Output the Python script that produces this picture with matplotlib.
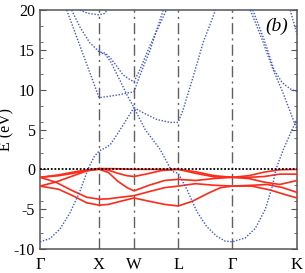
import matplotlib
matplotlib.use('Agg')
import matplotlib.pyplot as plt
from matplotlib.ticker import MultipleLocator

plt.rcParams['font.family'] = ['Liberation Serif', 'DejaVu Serif']

# high-symmetry points (k path position)
kpts = [0.0, 0.95, 1.51, 2.22, 3.09, 4.13]
klabels = ['Γ', 'X', 'W', 'L', 'Γ', 'K']

# ---- blue (s-p) bands ----
b1_k = [0.0, 0.16, 0.32, 0.48, 0.64, 0.77, 0.87, 0.95, 1.05, 1.13, 1.29, 1.51,
        1.69, 1.93, 2.12, 2.22, 2.36, 2.52, 2.68, 2.84, 2.97, 3.09,
        3.30, 3.46, 3.62, 3.73, 3.79, 3.91, 4.05, 4.13]
b1_e = [-9.1, -8.7, -7.5, -5.5, -2.8, 0.0, 1.6, 2.3, 2.7, 3.1, 5.0, 7.75,
        5.0, 2.5, -0.25, -0.5, -2.5, -5.3, -7.2, -8.4, -9.0, -9.1,
        -8.6, -7.4, -5.0, -2.2, 0.0, 2.5, 5.0, 6.3]

b2_k = [0.43, 0.56, 0.69, 0.82, 0.95, 1.13, 1.29, 1.51, 1.61, 1.77, 1.98]
b2_e = [20.0, 17.25, 14.5, 11.75, 9.0, 9.2, 9.4, 9.75, 11.9, 15.0, 20.0]

b3_k = [0.51, 0.64, 0.80, 0.92, 0.95, 1.05, 1.13, 1.24, 1.33, 1.45, 1.51,
        1.61, 1.77, 2.03]
b3_e = [20.0, 17.9, 15.9, 15.0, 14.75, 14.6, 14.0, 12.9, 11.9, 11.25, 11.0,
        12.6, 15.6, 20.0]

b4_k = [0.95, 1.05, 1.13, 1.29, 1.40, 1.51, 1.66, 1.88, 2.09, 2.22,
        2.30, 2.46, 2.62, 2.82]
b4_e = [14.75, 14.4, 13.6, 11.1, 9.3, 7.75, 7.1, 6.25, 5.9, 5.9,
        7.5, 11.6, 15.9, 20.0]

b5_k = [0.64, 0.77, 0.95, 1.05, 1.07]
b5_e = [20.0, 19.6, 19.4, 19.6, 20.0]

b6_k = [3.38, 3.57, 3.73, 3.91, 4.05, 4.13]
b6_e = [20.0, 16.3, 12.8, 9.5, 6.6, 5.0]

b7_k = [3.42, 3.60, 3.76, 3.89, 4.02, 4.13]
b7_e = [20.0, 16.3, 12.5, 10.9, 10.1, 9.75]

b8_k = [4.02, 4.13]
b8_e = [20.0, 16.9]

# ---- red (d) bands ----
r1_k = [0.0, 0.3, 0.6, 0.8, 0.95, 1.2, 1.51, 1.9, 2.22, 2.5, 2.8, 3.09,
        3.35, 3.6, 3.85, 4.13]
r1_e = [-1.0, -0.7, -0.25, -0.02, 0.1, 0.08, 0.0, 0.0, 0.0, -0.3, -0.8, -1.0,
        -0.8, -0.35, -0.05, 0.0]

r2_k = [0.0, 0.25, 0.5, 0.75, 0.95, 1.1, 1.25, 1.4, 1.51, 1.7, 1.95, 2.22,
        2.5, 2.8, 3.09, 3.35, 3.6, 3.85, 4.13]
r2_e = [-2.1, -1.6, -0.9, -0.2, 0.05, -0.1, -0.5, -0.8, -0.9, -0.6, -0.15, 0.0,
        -0.5, -0.95, -1.0, -1.0, -0.9, -0.6, -0.6]

r3_k = [0.0, 0.3, 0.6, 0.8, 0.95, 1.1, 1.25, 1.4, 1.51, 1.75, 2.0, 2.22,
        2.5, 2.8, 3.09, 3.35, 3.6, 3.85, 4.13]
r3_e = [-1.0, -0.8, -0.4, -0.1, 0.0, -0.4, -1.5, -2.3, -2.7, -2.0, -1.4, -1.25,
        -1.4, -1.15, -1.0, -1.15, -1.6, -1.9, -1.4]

r4_k = [0.0, 0.25, 0.5, 0.75, 0.95, 1.1, 1.3, 1.51, 1.75, 2.0, 2.22,
        2.5, 2.8, 3.09, 3.4, 3.65, 3.9, 4.13]
r4_e = [-1.0, -1.6, -2.6, -3.5, -3.75, -3.7, -3.5, -3.3, -2.8, -2.3, -2.1,
        -1.8, -2.0, -2.1, -2.0, -1.9, -2.3, -2.9]

r5_k = [0.0, 0.3, 0.55, 0.75, 0.95, 1.1, 1.3, 1.51, 1.75, 2.0, 2.22,
        2.45, 2.7, 2.9, 3.09, 3.4, 3.7, 3.95, 4.13]
r5_e = [-2.1, -2.5, -3.4, -4.2, -4.5, -4.4, -4.0, -3.6, -4.0, -4.4, -4.6,
        -4.0, -3.0, -2.3, -2.1, -2.1, -2.6, -3.2, -3.6]

blue_bands = [(b1_k, b1_e), (b2_k, b2_e), (b3_k, b3_e), (b4_k, b4_e),
              (b5_k, b5_e), (b6_k, b6_e), (b7_k, b7_e), (b8_k, b8_e)]
red_bands = [(r1_k, r1_e), (r2_k, r2_e), (r3_k, r3_e), (r4_k, r4_e), (r5_k, r5_e)]

fig = plt.figure(figsize=(3.05, 2.73), dpi=100)
ax = fig.add_axes([0.131, 0.088, 0.843, 0.875])

for k, e in red_bands:
    ax.plot(k, e, color='#ff2a1a', lw=1.2, zorder=3)
for k, e in blue_bands:
    ax.plot(k, e, color='#4455c4', lw=1.0, ls=(0, (1, 1.2)), zorder=4)

# fermi level
ax.axhline(0, color='black', lw=1.3, ls=(0, (1, 1)), zorder=5)

# symmetry lines
for x in kpts[1:-1]:
    ax.axvline(x, color='#606060', lw=1.0, ls=(0, (8, 3, 1.5, 3)), zorder=2)

ax.set_xlim(kpts[0], kpts[-1])
ax.set_ylim(-10, 20)
ax.set_xticks(kpts)
ax.set_xticklabels(klabels, fontsize=12)
ax.set_yticks([-10, -5, 0, 5, 10, 15, 20])
ax.set_yticklabels(['-10', '-5', '0', '5', '10', '15', '20'], fontsize=11.5)
ax.yaxis.set_minor_locator(MultipleLocator(2))
ax.tick_params(axis='x', length=0, pad=6)
ax.tick_params(axis='y', which='both', direction='in', right=True, colors='#555555',
               labelcolor='black')
ax.tick_params(axis='y', which='major', length=4)
ax.tick_params(axis='y', which='minor', length=2)
for s in ax.spines.values():
    s.set_color('#555555')
    s.set_linewidth(1.1)

ax.set_ylabel('E (eV)', fontsize=11.5)
ax.yaxis.set_label_coords(-0.098, 0.5)
ax.text(0.922, 0.93, '(b)', transform=ax.transAxes, fontsize=14, style='italic',
        ha='center', va='center')

fig.savefig('out.png', dpi=100)
